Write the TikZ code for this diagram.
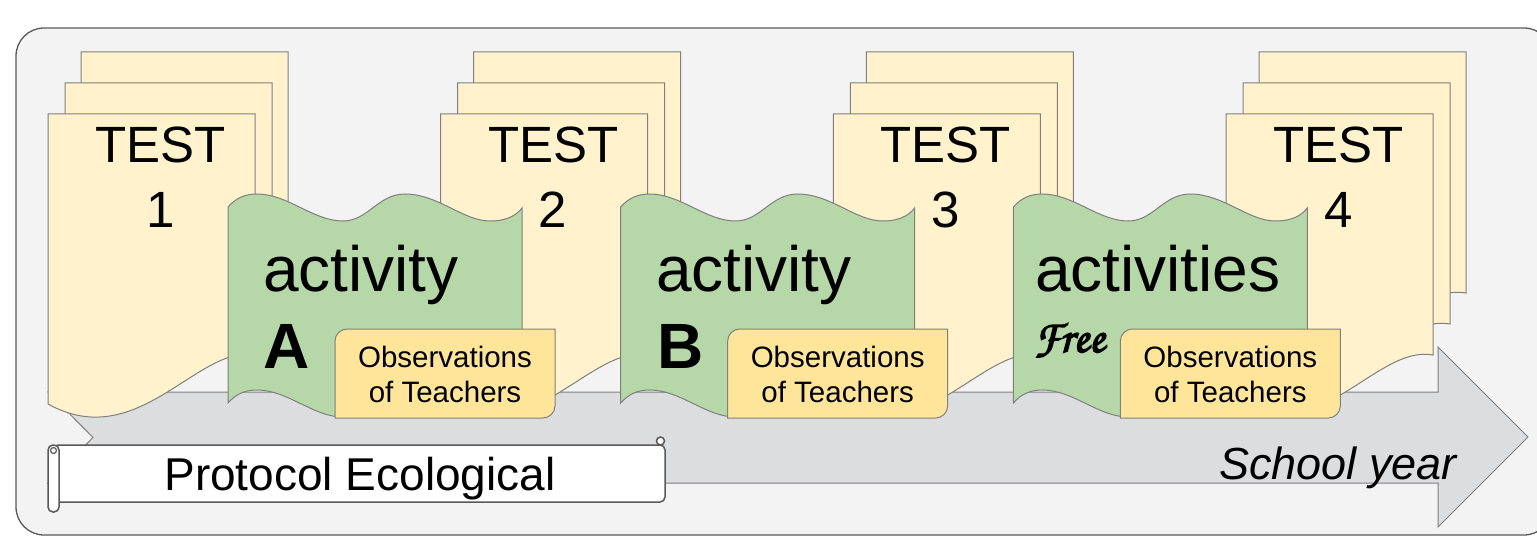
\documentclass[tikz,border=0pt]{standalone}
\usepackage{fontspec}
\setmainfont{Liberation Sans}
\newfontfamily\chorus{texgyrechorus-mediumitalic.otf}[FakeBold=3]
\definecolor{bgc}{HTML}{F3F3F3}
\definecolor{edgec}{HTML}{595959}
\definecolor{pagec}{HTML}{FFF2CC}
\definecolor{greenc}{HTML}{B6D7A8}
\definecolor{obsc}{HTML}{FFE599}
\definecolor{arrowc}{HTML}{DCDDDF}
\definecolor{linec}{HTML}{7F7F7F}
\tikzset{
  pagebox/.style={fill=pagec, draw=linec, line width=1pt},
  wavebox/.style={fill=greenc, draw=linec, line width=1pt},
  obsbox/.style={fill=obsc, draw=linec, line width=1pt},
  timearrow/.style={fill=arrowc, draw=linec, line width=1pt},
  scrollbox/.style={fill=white, draw=edgec, line width=1.5pt},
  lbl/.style={inner sep=0pt, outer sep=0pt, text=black},
}
\begin{document}
\begin{tikzpicture}[x=1pt,y=-1pt]
\useasboundingbox (0,0) rectangle (1537,540);
% background panel
\draw[fill=bgc, draw=edgec, line width=1.3pt, rounded corners=28pt] (16,28) rectangle (1552,535);
% time arrow
\draw[timearrow] (48,392) -- (1438,392) -- (1438,347) -- (1528,437) -- (1438,527) -- (1438,483) -- (48,483) -- (93,437.5) -- cycle;
% test stacks
\foreach \i/\n in {0/1,1/2,2/3,3/4}{
  \pgfmathsetmacro\px{48+392.67*\i}
  \foreach \dx/\ty in {33/52,17/83,0/114}{
    \draw[pagebox] (\px+\dx,\ty) -- ++(207,0) -- ++(0,241)
      .. controls +(-57,-11) and +(90,50) .. ++(-207,49) -- cycle;
  }
  \node[lbl, anchor=north, align=center, font=\fontsize{51}{65}\selectfont]
    (test\n) at (\px+112.5,126.5) {TEST\\\n};
}
% activity waves
\foreach \gx in {228,620.67,1013.33}{
  \begin{scope}[shift={(\gx,207)}]
  \draw[wavebox] (0,0) .. controls (8,-9) and (17,-13) .. (29,-13)
    .. controls (60,-13) and (85,14) .. (115,14)
    .. controls (140,14) and (150,-13) .. (177,-13)
    .. controls (210,-13) and (235,14) .. (262,14)
    .. controls (282,14) and (290,6) .. (294,1)
    -- (294,197)
    .. controls (290,202) and (282,210) .. (262,210)
    .. controls (235,210) and (210,183) .. (177,183)
    .. controls (150,183) and (140,210) .. (115,210)
    .. controls (85,210) and (60,183) .. (29,183)
    .. controls (17,183) and (8,187) .. (0,196) -- cycle;
  \end{scope}
}
% observation boxes
\foreach \ox/\k in {335/1,727.67/2,1120.33/3}{
  \draw[obsbox] (\ox,418) -- (\ox,341) .. controls (\ox,334.4) and (\ox+5.6,329) .. (\ox+12,329)
    -- (\ox+220,329) -- (\ox+220,406) .. controls (\ox+220,412.6) and (\ox+214.4,418) .. (\ox+208,418) -- cycle;
  \node[lbl, anchor=north, align=center, font=\fontsize{29.5}{35}\selectfont]
    (obs\k) at (\ox+110,346) {Observations\\of Teachers};
}
% activity labels
\node[lbl, anchor=base west, font=\fontsize{64}{70}\selectfont] (actA) at (263,291) {activity};
\node[lbl, anchor=base west, font=\fontsize{64}{70}\selectfont\bfseries] (letA) at (263,368) {A};
\node[lbl, anchor=base west, font=\fontsize{64}{70}\selectfont] (actB) at (656,291) {activity};
\node[lbl, anchor=base west, font=\fontsize{64}{70}\selectfont\bfseries] (letB) at (657,368) {B};
\node[lbl, anchor=base west, font=\fontsize{64}{70}\selectfont] (actC) at (1035,291) {activities};
\node[lbl, anchor=base west, font=\fontsize{46}{50}\chorus] (free) at (1034,352) {Free};
% scroll
\draw[scrollbox, rounded corners=5pt] (53,445) rectangle (665,502);
\draw[scrollbox, rounded corners=5pt] (48,445) rectangle (59,512);
\draw[draw=edgec, line width=1.2pt] (53.5,450.5) circle (3);
\draw[scrollbox] (660.5,441) circle (4);
\node[lbl, anchor=base, font=\fontsize{46}{50}\selectfont] (proto) at (360,490) {Protocol Ecological};
% school year
\node[lbl, anchor=base west, font=\fontsize{45}{50}\selectfont\itshape] (year) at (1219,479) {School year};
\end{tikzpicture}
\end{document}
